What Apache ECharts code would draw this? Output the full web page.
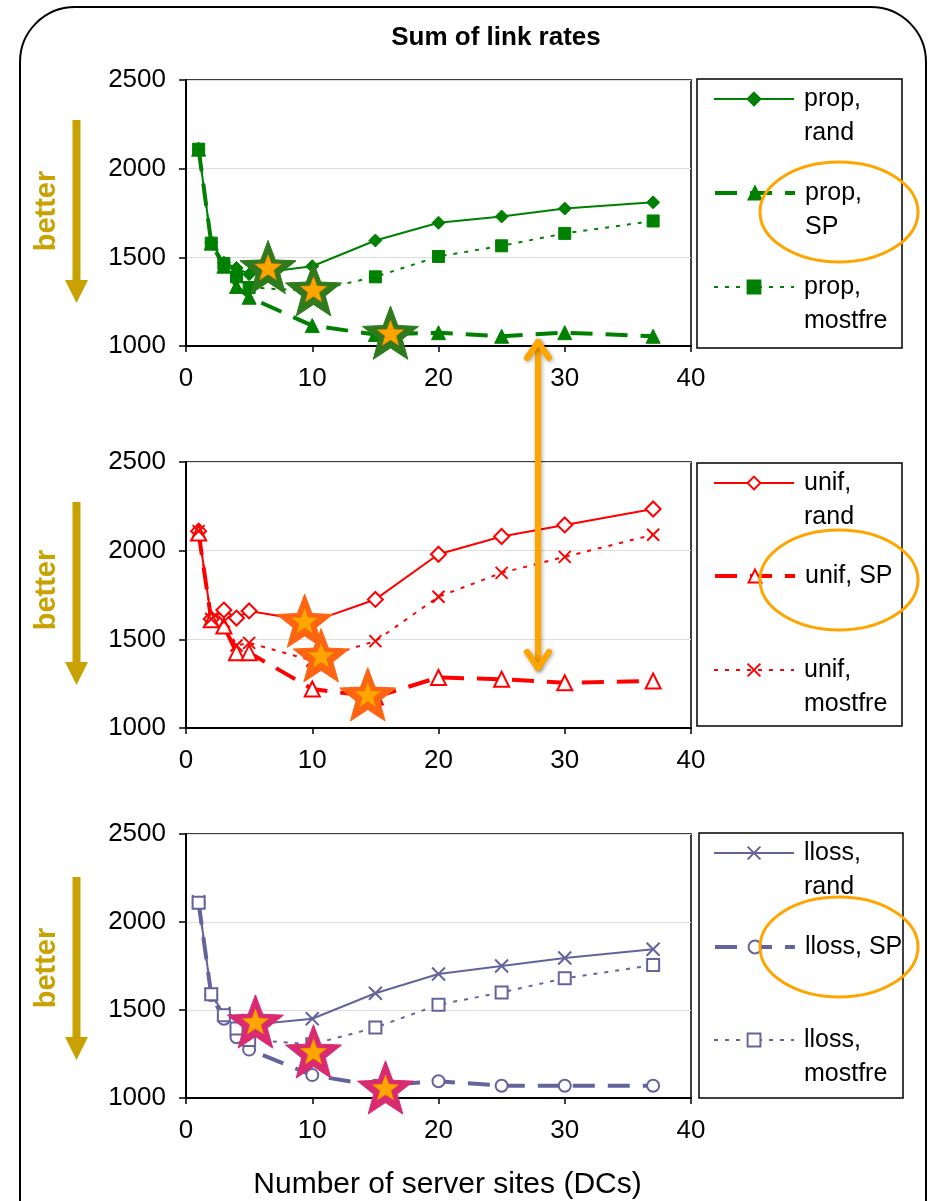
<!DOCTYPE html>
<html>
<head>
<meta charset="utf-8">
<title>Sum of link rates</title>
<script src="https://cdn.jsdelivr.net/npm/echarts@6/dist/echarts.min.js"></script>
<style>
  html, body { margin: 0; padding: 0; background: #fff; }
  #main { width: 929px; height: 1201px; }
</style>
</head>
<body>
<div id="main"></div>
<script>
// number of server sites (DCs)
var sites = [1, 2, 3, 4, 5, 10, 15, 20, 25, 30, 37];

// sum of link rates, panel 1 (prop)
var propRand = [2110, 1585, 1470, 1440, 1405, 1450, 1595, 1695, 1730, 1775, 1810];
var propSP   = [2110, 1580, 1450, 1335, 1275, 1115, 1065, 1075, 1055, 1075, 1055];
var propMost = [2110, 1580, 1465, 1390, 1330, 1310, 1390, 1505, 1565, 1635, 1705];

// panel 2 (unif)
var unifRand = [2110, 1615, 1665, 1620, 1660, 1600, 1725, 1980, 2080, 2145, 2235];
var unifSP   = [2100, 1610, 1575, 1425, 1425, 1220, 1175, 1285, 1275, 1255, 1265];
var unifMost = [2110, 1615, 1600, 1465, 1480, 1380, 1490, 1740, 1875, 1965, 2090];

// panel 3 (lloss)
var llossRand = [2115, 1590, 1480, 1440, 1415, 1450, 1595, 1705, 1750, 1795, 1845];
var llossSP   = [2110, 1585, 1450, 1345, 1275, 1130, 1070, 1095, 1070, 1070, 1070];
var llossMost = [2110, 1590, 1470, 1395, 1330, 1305, 1400, 1530, 1600, 1680, 1755];

// highlighted optima (stars)
var propStars  = [[6.5, 1445], [10.1, 1320], [16.2, 1075]];
var unifStars  = [[9.4, 1605], [10.7, 1410], [14.4, 1190]];
var llossStars = [[5.5, 1435], [10.1, 1265], [15.8, 1060]];

// axis ticks
var xTicks = [0, 10, 20, 30, 40];
var yTicks = [1000, 1500, 2000, 2500];

var FONT = "'Liberation Sans', Arial, sans-serif";
var gridTops = [80, 462, 834];
var gridH = 266;

function starPath (ratio) {
  var pts = [];
  for (var i = 0; i < 10; i++) {
    var r = i % 2 === 0 ? 50 : 50 * ratio;
    var a = -Math.PI / 2 + i * Math.PI / 5;
    pts.push((50 + r * Math.cos(a)).toFixed(2) + ',' + (50 + r * Math.sin(a)).toFixed(2));
  }
  return 'path://M' + pts.join('L') + 'Z';
}
var STAR = starPath(0.42);
var CROSS = 'path://M0,0L10,10M10,0L0,10';

function pairs (ys) {
  return sites.map(function (x, i) { return [x, ys[i]]; });
}

var lineTypes = {
  rand: { width: 2, type: 'solid' },
  SP: { width: 4, type: [22, 13] },
  most: { width: 2, type: [4, 7] }
};

function makeLine (name, ys, gi, color, kind, symbol, size, open) {
  return {
    name: name,
    type: 'line',
    xAxisIndex: gi,
    yAxisIndex: gi,
    data: pairs(ys),
    symbol: symbol,
    symbolSize: size,
    showAllSymbol: true,
    lineStyle: { color: color, width: lineTypes[kind].width, type: lineTypes[kind].type },
    itemStyle: open
      ? { color: symbol === CROSS ? 'rgba(0,0,0,0)' : '#fff', borderColor: color, borderWidth: 2 }
      : { color: color, borderColor: color, borderWidth: 1 },
    emphasis: { disabled: true },
    z: 3
  };
}

function makeStars (pts, gi, outer) {
  return [
    {
      type: 'scatter', xAxisIndex: gi, yAxisIndex: gi, data: pts,
      symbol: STAR, symbolSize: 56, symbolKeepAspect: true,
      itemStyle: { color: outer, borderColor: outer, borderWidth: 1, opacity: 1 },
      emphasis: { disabled: true }, z: 5
    },
    {
      type: 'scatter', xAxisIndex: gi, yAxisIndex: gi, data: pts,
      symbol: STAR, symbolSize: 27, symbolKeepAspect: true,
      itemStyle: { color: '#FFA500', borderColor: '#E07000', borderWidth: 0.5, opacity: 1 },
      emphasis: { disabled: true }, z: 6
    }
  ];
}

var green = '#008000';
var red = '#FF0000';
var slate = '#64649C';

var series = [
  makeLine('prop, rand', propRand, 0, green, 'rand', 'diamond', 13, false),
  makeLine('prop, SP', propSP, 0, green, 'SP', 'triangle', 14, false),
  makeLine('prop, mostfre', propMost, 0, green, 'most', 'rect', 12, false),
  makeLine('unif, rand', unifRand, 1, red, 'rand', 'diamond', 15, true),
  makeLine('unif, SP', unifSP, 1, red, 'SP', 'triangle', 15, true),
  makeLine('unif, mostfre', unifMost, 1, red, 'most', CROSS, 12, true),
  makeLine('lloss, rand', llossRand, 2, slate, 'rand', CROSS, 13, true),
  makeLine('lloss, SP', llossSP, 2, slate, 'SP', 'circle', 12, true),
  makeLine('lloss, mostfre', llossMost, 2, slate, 'most', 'rect', 12, true)
]
  .concat(makeStars(propStars, 0, '#2E7A1C'))
  .concat(makeStars(unifStars, 1, '#FF6412'))
  .concat(makeStars(llossStars, 2, '#D92A72'));

// legend entries: series name, label text, y of sample line, sample line width
var legendItems = [
  ['prop, rand', '\nprop,\nrand', 99, 2],
  ['prop, SP', '\nprop,\nSP', 193, 4],
  ['prop, mostfre', '\nprop,\nmostfre', 287, 2],
  ['unif, rand', '\nunif,\nrand', 483, 2],
  ['unif, SP', 'unif, SP', 576, 4],
  ['unif, mostfre', '\nunif,\nmostfre', 670, 2],
  ['lloss, rand', '\nlloss,\nrand', 853, 2],
  ['lloss, SP', 'lloss, SP', 947, 4],
  ['lloss, mostfre', '\nlloss,\nmostfre', 1040, 2]
];
var LH = 34;
var legends = legendItems.map(function (it) {
  var lines = it[1].split('\n').length;
  return {
    data: [it[0]],
    left: 713,
    top: it[2] - lines * LH / 2,
    padding: 0,
    itemWidth: 80,
    itemHeight: 16,
    selectedMode: false,
    lineStyle: { width: it[3] },
    formatter: function () { return it[1]; },
    textStyle: { fontFamily: FONT, fontSize: 25, lineHeight: LH, color: '#000', padding: [0, 0, 0, 5] }
  };
});

var grids = [], xAxes = [], yAxes = [];
gridTops.forEach(function (top, i) {
  grids.push({ left: 186, right: 238, top: top, height: gridH, show: true, borderColor: '#000', borderWidth: 1.5, backgroundColor: 'transparent' });
  xAxes.push({
    type: 'value', gridIndex: i,
    min: xTicks[0], max: xTicks[xTicks.length - 1], interval: xTicks[1] - xTicks[0],
    axisLine: { lineStyle: { color: '#000', width: 2 } },
    axisTick: { show: true, length: 6, lineStyle: { color: '#000', width: 1.5 } },
    axisLabel: { color: '#000', fontSize: 26, fontFamily: FONT, margin: 20, formatter: function (v) { return String(v); } },
    splitLine: { show: false },
    name: i === 2 ? 'Number of server sites (DCs)' : '',
    nameLocation: 'middle',
    nameGap: 72,
    nameTextStyle: { color: '#000', fontSize: 30, fontFamily: FONT, padding: [0, 0, 0, 18] }
  });
  yAxes.push({
    type: 'value', gridIndex: i,
    min: yTicks[0], max: yTicks[yTicks.length - 1], interval: yTicks[1] - yTicks[0],
    axisLine: { show: true, lineStyle: { color: '#000', width: 2 } },
    axisTick: { show: true, length: 7, lineStyle: { color: '#000', width: 1.5 } },
    axisLabel: { color: '#000', fontSize: 26, fontFamily: FONT, margin: 20, formatter: function (v) { return String(v); } },
    splitLine: { show: true, lineStyle: { color: '#DDDDDD', width: 1 } }
  });
});

var gold = '#C9A100';
var orange = '#FFA500';
var graphics = [
  { type: 'rect', shape: { x: 20, y: 7, width: 906, height: 1300, r: 55 }, style: { fill: 'none', stroke: '#000', lineWidth: 2 }, z: 0 },
  { type: 'rect', shape: { x: 697, y: 79, width: 205, height: 269 }, style: { fill: 'none', stroke: '#000', lineWidth: 1.5 }, z: 1 },
  { type: 'rect', shape: { x: 697, y: 463, width: 205, height: 263 }, style: { fill: 'none', stroke: '#000', lineWidth: 1.5 }, z: 1 },
  { type: 'rect', shape: { x: 699, y: 833, width: 204, height: 265 }, style: { fill: 'none', stroke: '#000', lineWidth: 1.5 }, z: 1 }
];
[212, 580, 947].forEach(function (cy) {
  graphics.push({ type: 'ellipse', shape: { cx: 839, cy: cy, rx: 79, ry: 50 }, style: { fill: 'none', stroke: orange, lineWidth: 3 }, z: 50 });
});
[[120, 211], [502, 590], [877, 968]].forEach(function (p) {
  var y0 = p[0];
  graphics.push({
    type: 'polygon',
    shape: { points: [[72.5, y0], [80.5, y0], [80.5, y0 + 160], [88, y0 + 160], [76.5, y0 + 183], [65, y0 + 160], [72.5, y0 + 160]] },
    style: { fill: gold }, z: 10
  });
  graphics.push({
    type: 'text', x: 47, y: p[1], rotation: Math.PI / 2,
    style: { text: 'better', font: 'bold 29px ' + FONT, fill: gold, align: 'center', verticalAlign: 'middle' }, z: 10
  });
});
var arrowStyle = { stroke: orange, lineWidth: 6, lineCap: 'round', lineJoin: 'round', fill: 'none', shadowBlur: 4, shadowColor: 'rgba(0,0,0,0.35)', shadowOffsetX: 1, shadowOffsetY: 1 };
graphics.push({ type: 'polyline', shape: { points: [[538, 342], [538, 668]] }, style: arrowStyle, z: 60 });
graphics.push({ type: 'polyline', shape: { points: [[527, 358], [538, 342], [549, 358]] }, style: arrowStyle, z: 60 });
graphics.push({ type: 'polyline', shape: { points: [[527, 652], [538, 668], [549, 652]] }, style: arrowStyle, z: 60 });

var chart = echarts.init(document.getElementById('main'));
chart.setOption({
  backgroundColor: '#fff',
  animation: false,
  title: {
    text: 'Sum of link rates',
    left: 491, top: 20, textAlign: 'center',
    textStyle: { fontFamily: FONT, fontSize: 26, fontWeight: 'bold', color: '#000' }
  },
  legend: legends,
  grid: grids,
  xAxis: xAxes,
  yAxis: yAxes,
  series: series,
  graphic: graphics
});
</script>
</body>
</html>
